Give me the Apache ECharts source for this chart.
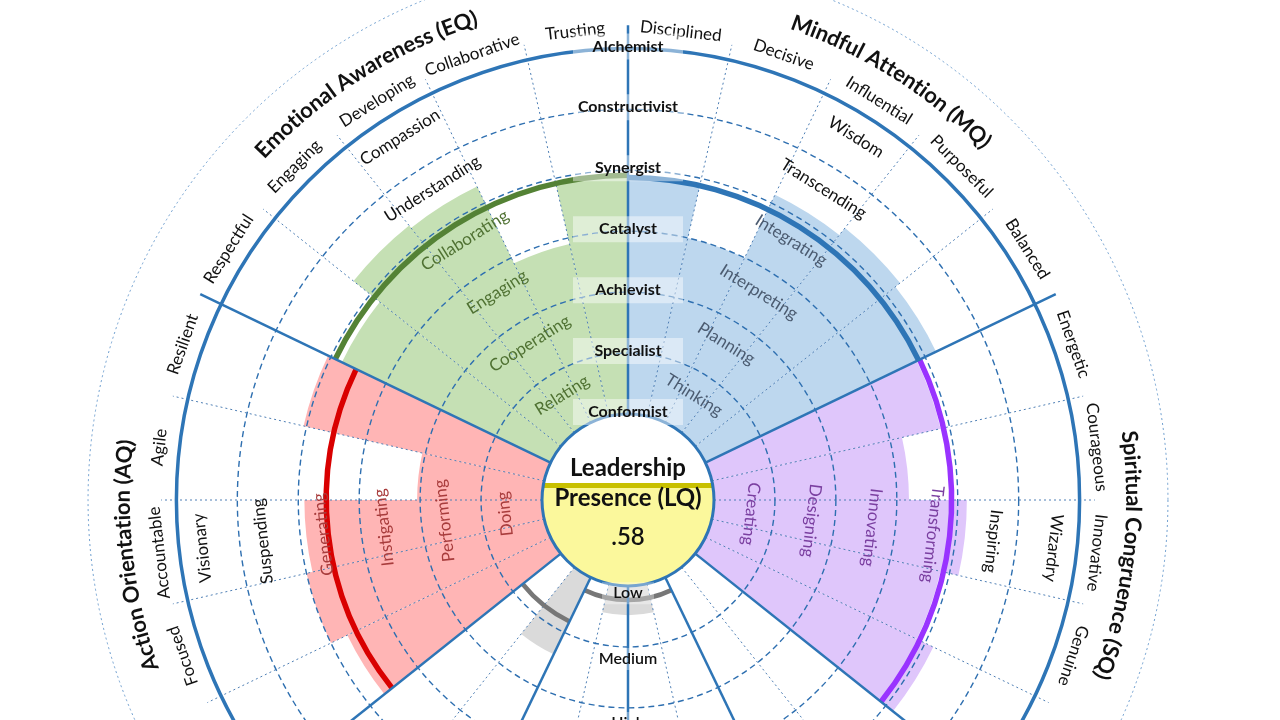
<!DOCTYPE html>
<html><head><meta charset="utf-8">
<script src="https://cdn.jsdelivr.net/npm/echarts@6/dist/echarts.min.js"></script>
<style>html,body{margin:0;padding:0;background:#fff}#c{width:1280px;height:720px}</style>
</head><body><div id="c"></div>
<script>
// ---- slot (spoke) labels, clockwise from 12 o'clock ----
const mqSlots  = ['Disciplined','Decisive','Influential','Purposeful','Balanced'];
const sqSlots  = ['Energetic','Courageous','Innovative','Genuine',''];
const lowSlots = ['','','','','','','',''];
const aqSlots  = ['','Focused','Accountable','Agile','Resilient'];
const eqSlots  = ['Respectful','Engaging','Developing','Collaborative','Trusting'];

// ---- bar values (ring units: 0 = inner circle, 6 = outer blue ring) ----
const mqValues  = [3.85, 3.0, 4.15, 4.3, 4.2];
const sqValues  = [3.85, 3.2, 4.15, 3.85, 4.15];
const lowValues = [0, 0, 0, 0.48, 0.48, 0, 1.4, 0];
const aqValues  = [3.7, 4.0, 3.9, 2.05, 4.05];
const eqValues  = [3.8, 4.35, 4.3, 2.9, 3.9];

// ---- quadrant score arcs ----
const scoreNames  = ['MQ','SQ','AQ','EQ'];
const scoreValues = [3.88, 3.9, 3.54, 3.92];
const lowGaugeFrom   = [12, 16];
const lowGaugeTo     = [15, 17];
const lowGaugeValues = [0.23, 0.8];

// ---- ring labels (inner -> outer) ----
const mqRings = ['Thinking','Planning','Interpreting','Integrating','Transcending','Wisdom'];
const sqRings = ['Creating','Designing','Innovating','Transforming','Inspiring','Wizardry'];
const aqRings = ['Doing','Performing','Instigating','Generating','Suspending','Visionary'];
const eqRings = ['Relating','Cooperating','Engaging','Collaborating','Understanding','Compassion'];

const levels = ['Conformist','Specialist','Achievist','Catalyst','Synergist','Constructivist','Alchemist'];
const bottomLabels = ['Low','Medium','High'];
const bottomLabelPos = [0.12, 1.2, 2.25];

const titles = ['Mindful Attention (MQ)','Spiritual Congruence (SQ)','Action Orientation (AQ)','Emotional Awareness (EQ)'];
const centerLines = ['Leadership','Presence (LQ)'];
const lqValue = 0.58;

// ---------------------------------------------------------------
const slotLabels = [...mqSlots, ...sqSlots, ...lowSlots, ...aqSlots, ...eqSlots];
const N = slotLabels.length;
const slotKeys = slotLabels.map((s,i)=>'slot'+i);
const sectorStart = [0, 5, 10, 18, 23];          // first slot of MQ, SQ, low, AQ, EQ
const solidSpokes = [0, 5, 10, 12, 14, 16, 18, 23];
const sectorMid = [2, 7, 20, 25];                  // MQ SQ AQ EQ
const sectorSlots = [[0,4],[5,9],[18,22],[23,27]];
const FONT = 'Lato, "Open Sans", sans-serif';

function place(vals, start){ const a = new Array(N).fill('-'); vals.forEach((v,i)=>{ a[start+i] = v; }); return a; }

function geom(params, api){
  const cs = params.coordSys; const cx = cs.cx, cy = cs.cy;
  const rPix = k => { const p = api.coord([k, slotKeys[0]]); return Math.hypot(p[0]-cx, p[1]-cy); };
  const angOf = i => { const p = api.coord([3, slotKeys[i]]); return Math.atan2(cy - p[1], p[0] - cx) * 180 / Math.PI; };
  const a0 = angOf(0); let w = a0 - angOf(1); if (w < 0) w += 360;
  const center = i => a0 - i*w;
  const start = i => a0 - i*w + w/2;
  const pt = (k, deg) => { const r = rPix(k), t = deg*Math.PI/180; return [cx + r*Math.cos(t), cy - r*Math.sin(t)]; };
  return {cx, cy, rPix, w, center, start, pt};
}
function textEl(str, x, y, rotDeg, size, weight, color){
  return {type:'text', x, y, rotation: rotDeg*Math.PI/180,
    style:{text:str, fontSize:size, fontWeight:weight, fontFamily:FONT, fill:color, align:'center', verticalAlign:'middle'}};
}
const mctx = document.createElement('canvas').getContext('2d');
function curved(str, g, k, centerDeg, size, weight, color){
  mctx.font = weight + ' ' + size + 'px ' + FONT;
  const chars = [...str]; const ws = chars.map(c=>mctx.measureText(c).width);
  const total = ws.reduce((a,b)=>a+b,0); const r = g.rPix(k);
  let acc = 0; const out = [];
  chars.forEach((c,i)=>{
    const mid = acc + ws[i]/2; acc += ws[i];
    const deg = centerDeg + (total/2 - mid)/r*180/Math.PI;
    const p = g.pt(k, deg);
    out.push(textEl(c, p[0], p[1], deg-90, size, weight, color));
  });
  return out;
}
function arcEl(g, k, fromSlot, toSlot, color, width){
  const aHi = g.start(fromSlot), aLo = g.start(toSlot) - g.w;
  return {type:'arc', shape:{cx:g.cx, cy:g.cy, r:g.rPix(k), startAngle:-aHi*Math.PI/180, endAngle:-aLo*Math.PI/180, clockwise:true},
    style:{stroke:color, lineWidth:width, fill:null}};
}

function renderGrid(params, api){
  const g = geom(params, api); const ch = [];
  for (let i=0;i<N;i++){
    if (solidSpokes.includes(i)) continue;
    const a = g.start(i), p1 = g.pt(0,a), p2 = g.pt(6.25,a);
    ch.push({type:'line', shape:{x1:p1[0],y1:p1[1],x2:p2[0],y2:p2[1]}, style:{stroke:'#4f7fb5', lineWidth:1, lineDash:[2,3]}});
  }
  for (let k=1;k<=5;k++) ch.push({type:'circle', shape:{cx:g.cx, cy:g.cy, r:g.rPix(k)}, style:{fill:null, stroke:'#2e6fb0', lineWidth:1.4, lineDash:[6,4]}});
  ch.push({type:'circle', shape:{cx:g.cx, cy:g.cy, r:g.rPix(7.45)}, style:{fill:null, stroke:'#6f9fd0', lineWidth:1, lineDash:[2,3]}});
  return {type:'group', children:ch};
}
function renderFrame(params, api){
  const g = geom(params, api); const ch = [];
  const colors = ['#2e75b6','#9933ff','#d90000','#548235'];
  scoreValues.forEach((v,s)=>{ ch.push(arcEl(g, v, sectorSlots[s][0], sectorSlots[s][1], colors[s], 5.5)); });
  lowGaugeValues.forEach((v,j)=>{ ch.push(arcEl(g, v, lowGaugeFrom[j], lowGaugeTo[j], '#777777', 4.5)); });
  ch.push({type:'circle', shape:{cx:g.cx, cy:g.cy, r:g.rPix(6)}, style:{fill:null, stroke:'#2e75b6', lineWidth:3.5}});
  solidSpokes.forEach(i=>{
    const a = g.start(i), p1 = g.pt(0,a), p2 = g.pt(6.38,a);
    ch.push({type:'line', shape:{x1:p1[0],y1:p1[1],x2:p2[0],y2:p2[1]}, style:{stroke:'#2e75b6', lineWidth:2.5}});
  });
  return {type:'group', children:ch};
}
function renderCenter(params, api){
  const g = geom(params, api); const R = g.rPix(0); const ch = [];
  ch.push({type:'circle', shape:{cx:g.cx, cy:g.cy, r:R}, style:{fill:'#ffffff'}});
  const dy = 12; const al = Math.asin(dy/R); const pts = [];
  for (let j=0;j<=72;j++){ const t = al - j*(Math.PI+2*al)/72; pts.push([g.cx+R*Math.cos(t), g.cy-R*Math.sin(t)]); }
  ch.push({type:'polygon', shape:{points:pts}, style:{fill:'#fbf89c'}});
  const bandY = g.cy - 14.5, hw = Math.sqrt(R*R - 14.5*14.5);
  ch.push({type:'line', shape:{x1:g.cx-hw, y1:bandY, x2:g.cx+hw, y2:bandY}, style:{stroke:'#c8c000', lineWidth:5}});
  ch.push({type:'circle', shape:{cx:g.cx, cy:g.cy, r:R}, style:{fill:null, stroke:'#2e75b6', lineWidth:3}});
  ch.push(textEl(centerLines[0], g.cx, g.cy-32, 0, 24, 700, '#111'));
  ch.push(textEl(centerLines[1], g.cx, g.cy-2, 0, 24, 700, '#111'));
  ch.push(textEl(lqValue.toFixed(2).replace(/^0/,''), g.cx, g.cy+37, 0, 24, 600, '#111'));
  return {type:'group', children:ch};
}
function renderLabels(params, api){
  const g = geom(params, api); const ch = [];
  slotLabels.forEach((s,i)=>{ if(!s) return; const a = g.center(i); const p = g.pt(6.33, a); ch.push(textEl(s, p[0], p[1], a-90, 17, 400, '#111')); });
  const rings = [mqRings, sqRings, aqRings, eqRings];
  const inner = ['#4b5b70','#7a3fa0','#a83c3c','#4f7132'];
  rings.forEach((list,s)=>{
    const a = g.center(sectorMid[s]);
    list.forEach((t,i)=>{ const p = g.pt(i+0.62, a); ch.push(textEl(t, p[0], p[1], a-90, 17, 400, i<4 ? inner[s] : '#111')); });
  });
  titles.forEach((t,s)=>{ ch.push(...curved(t, g, 6.88, g.center(sectorMid[s]), 22, 700, '#111')); });
  levels.forEach((t,i)=>{
    const y = g.cy - g.rPix(i) - 2;
    ch.push({type:'rect', shape:{x:g.cx-55, y:y-13, width:110, height:26}, style:{fill:'rgba(255,255,255,0.45)'}});
    ch.push(textEl(t, g.cx, y, 0, 16, 700, '#111'));
  });
  bottomLabels.forEach((t,i)=>{
    const y = g.cy + g.rPix(bottomLabelPos[i]);
    ch.push({type:'rect', shape:{x:g.cx-26, y:y-11, width:52, height:22}, style:{fill:'rgba(255,255,255,0.35)'}});
    ch.push(textEl(t, g.cx, y, 0, 16, 600, '#111'));
  });
  return {type:'group', children:ch};
}

const barBase = {type:'bar', coordinateSystem:'polar', barGap:'-100%', barCategoryGap:'0%', silent:true, z:2};
const one = [[0, slotKeys[0]]];
const option = {
  animation:false,
  backgroundColor:'#ffffff',
  polar:{center:[628,500], radius:[86,543]},
  angleAxis:{type:'category', data:slotKeys, startAngle:90, clockwise:true, boundaryGap:true,
    axisLine:{show:false}, axisTick:{show:false}, axisLabel:{show:false}, splitLine:{show:false}},
  radiusAxis:{type:'value', min:0, max:7.5, axisLine:{show:false}, axisTick:{show:false}, axisLabel:{show:false}, splitLine:{show:false}},
  series:[
    Object.assign({}, barBase, {name:'MQ', data:place(mqValues, sectorStart[0]), itemStyle:{color:'#bdd7ee'}}),
    Object.assign({}, barBase, {name:'SQ', data:place(sqValues, sectorStart[1]), itemStyle:{color:'#dfc6fb'}}),
    Object.assign({}, barBase, {name:'Low', data:place(lowValues, sectorStart[2]), itemStyle:{color:'#dadada'}}),
    Object.assign({}, barBase, {name:'AQ', data:place(aqValues, sectorStart[3]), itemStyle:{color:'#ffb5b5'}}),
    Object.assign({}, barBase, {name:'EQ', data:place(eqValues, sectorStart[4]), itemStyle:{color:'#c5e0b4'}}),
    {type:'custom', coordinateSystem:'polar', data:one, renderItem:renderGrid, silent:true, z:3},
    {type:'custom', coordinateSystem:'polar', data:one, renderItem:renderFrame, silent:true, z:4},
    {type:'custom', coordinateSystem:'polar', data:one, renderItem:renderCenter, silent:true, z:5},
    {type:'custom', coordinateSystem:'polar', data:one, renderItem:renderLabels, silent:true, z:6}
  ]
};
const chart = echarts.init(document.getElementById('c'), null, {renderer:'canvas', width:1280, height:720});
chart.setOption(option);
</script></body></html>
